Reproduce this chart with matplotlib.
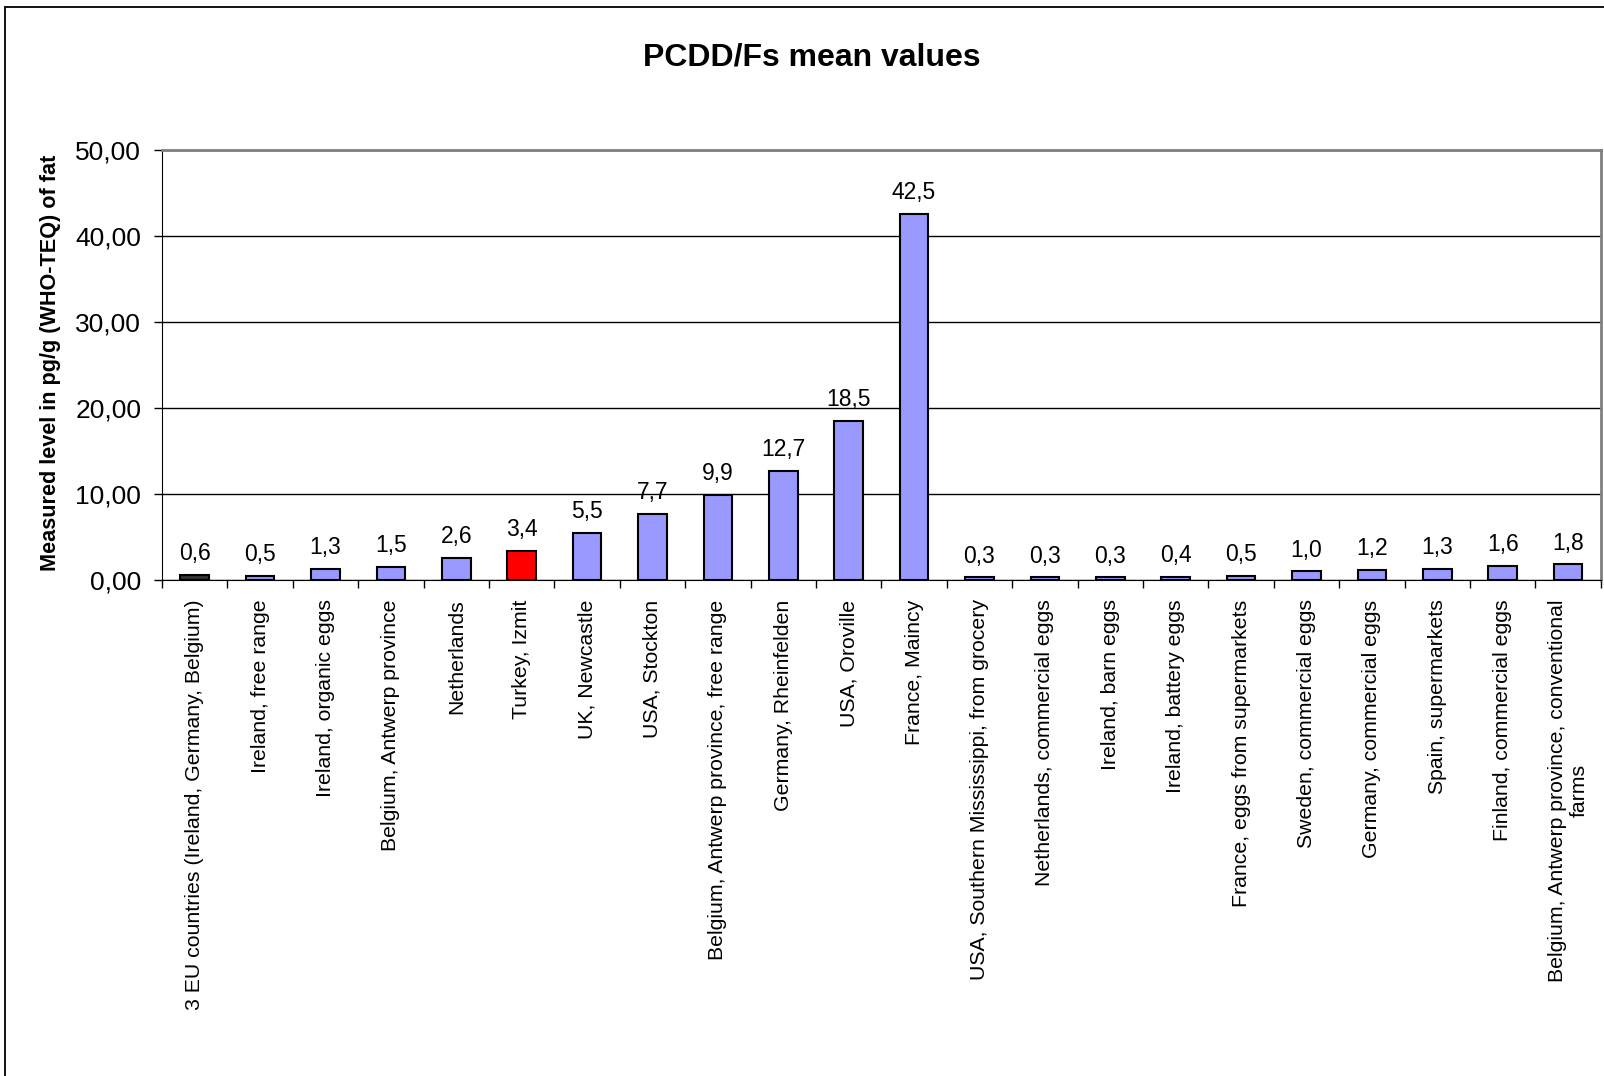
import numpy as np
import matplotlib.pyplot as plt
from matplotlib.patches import Rectangle
from matplotlib.ticker import FuncFormatter, FixedLocator

plt.rcParams['font.family'] = ['Liberation Sans', 'DejaVu Sans']

# Dati
categorie = [
    "3 EU countries (Ireland, Germany, Belgium)",
    "Ireland, free range",
    "Ireland, organic eggs",
    "Belgium, Antwerp province",
    "Netherlands",
    "Turkey, Izmit",
    "UK, Newcastle",
    "USA, Stockton",
    "Belgium, Antwerp province, free range",
    "Germany, Rheinfelden",
    "USA, Oroville",
    "France, Maincy",
    "USA, Southern Mississippi, from grocery",
    "Netherlands, commercial eggs",
    "Ireland, barn eggs",
    "Ireland, battery eggs",
    "France, eggs from supermarkets",
    "Sweden, commercial eggs",
    "Germany, commercial eggs",
    "Spain, supermarkets",
    "Finland, commercial eggs",
    "Belgium, Antwerp province, conventional\nfarms",
]
valori = [0.6, 0.5, 1.3, 1.5, 2.6, 3.4, 5.5, 7.7, 9.9, 12.7, 18.5, 42.5,
          0.3, 0.3, 0.3, 0.4, 0.5, 1.0, 1.2, 1.3, 1.6, 1.8]
yticks = [0, 10, 20, 30, 40, 50]

colori = ["#9999FF"] * len(valori)
colori[0] = "#333333"
colori[5] = "#FF0000"

fig = plt.figure(figsize=(16.04, 10.76), dpi=100)
ax = fig.add_axes([0.101, 0.461, 0.897, 0.400])

# Cornice esterna
fig.patches.append(Rectangle((5 / 1604, -0.1), 1.2, 1 - 7 / 1076 + 0.1,
                             transform=fig.transFigure, fill=False,
                             edgecolor="black", linewidth=1.3))

x = np.arange(len(valori))
ax.set_axisbelow(True)
ax.yaxis.grid(True, color="black", linewidth=1)
bars = ax.bar(x, valori, width=0.44, color=colori, edgecolor="black",
              linewidth=1.5, zorder=3)

for xi, v in zip(x, valori):
    ax.annotate(f"{v:.1f}".replace(".", ","), (xi, v), xytext=(0, 7),
                textcoords="offset points", ha="center", va="bottom",
                fontsize=16.5)

ax.set_xlim(-0.5, len(valori) - 0.5)
ax.set_ylim(0, 50)
ax.set_yticks(yticks)
ax.yaxis.set_major_formatter(FuncFormatter(lambda v, p: f"{v:.2f}".replace(".", ",")))
ax.tick_params(axis="y", labelsize=19, length=6, width=1, direction="out", pad=9)

ax.set_xticks(x)
ax.set_xticklabels(categorie, rotation=90, fontsize=15.3, ha="center", va="top",
                   multialignment="center")
ax.tick_params(axis="x", which="major", length=0, pad=14)
ax.xaxis.set_minor_locator(FixedLocator(np.arange(-0.5, len(valori), 1.0)))
ax.tick_params(axis="x", which="minor", length=6, width=1, direction="out")

ax.spines["left"].set_color("black")
ax.spines["bottom"].set_color("black")
ax.spines["top"].set_color("#808080")
ax.spines["right"].set_color("#808080")
ax.spines["top"].set_linewidth(2)
ax.spines["right"].set_linewidth(2)

ax.set_ylabel("Measured level in pg/g (WHO-TEQ) of fat", fontsize=15.6,
              fontweight="bold", va="center")
ax.yaxis.set_label_coords(51 / 1604, 1 - 363 / 1076, transform=fig.transFigure)

fig.text(812 / 1604, 1 - 57 / 1076, "PCDD/Fs mean values", ha="center",
         va="center", fontsize=23, fontweight="bold")

fig.savefig("out.png", dpi=100)
